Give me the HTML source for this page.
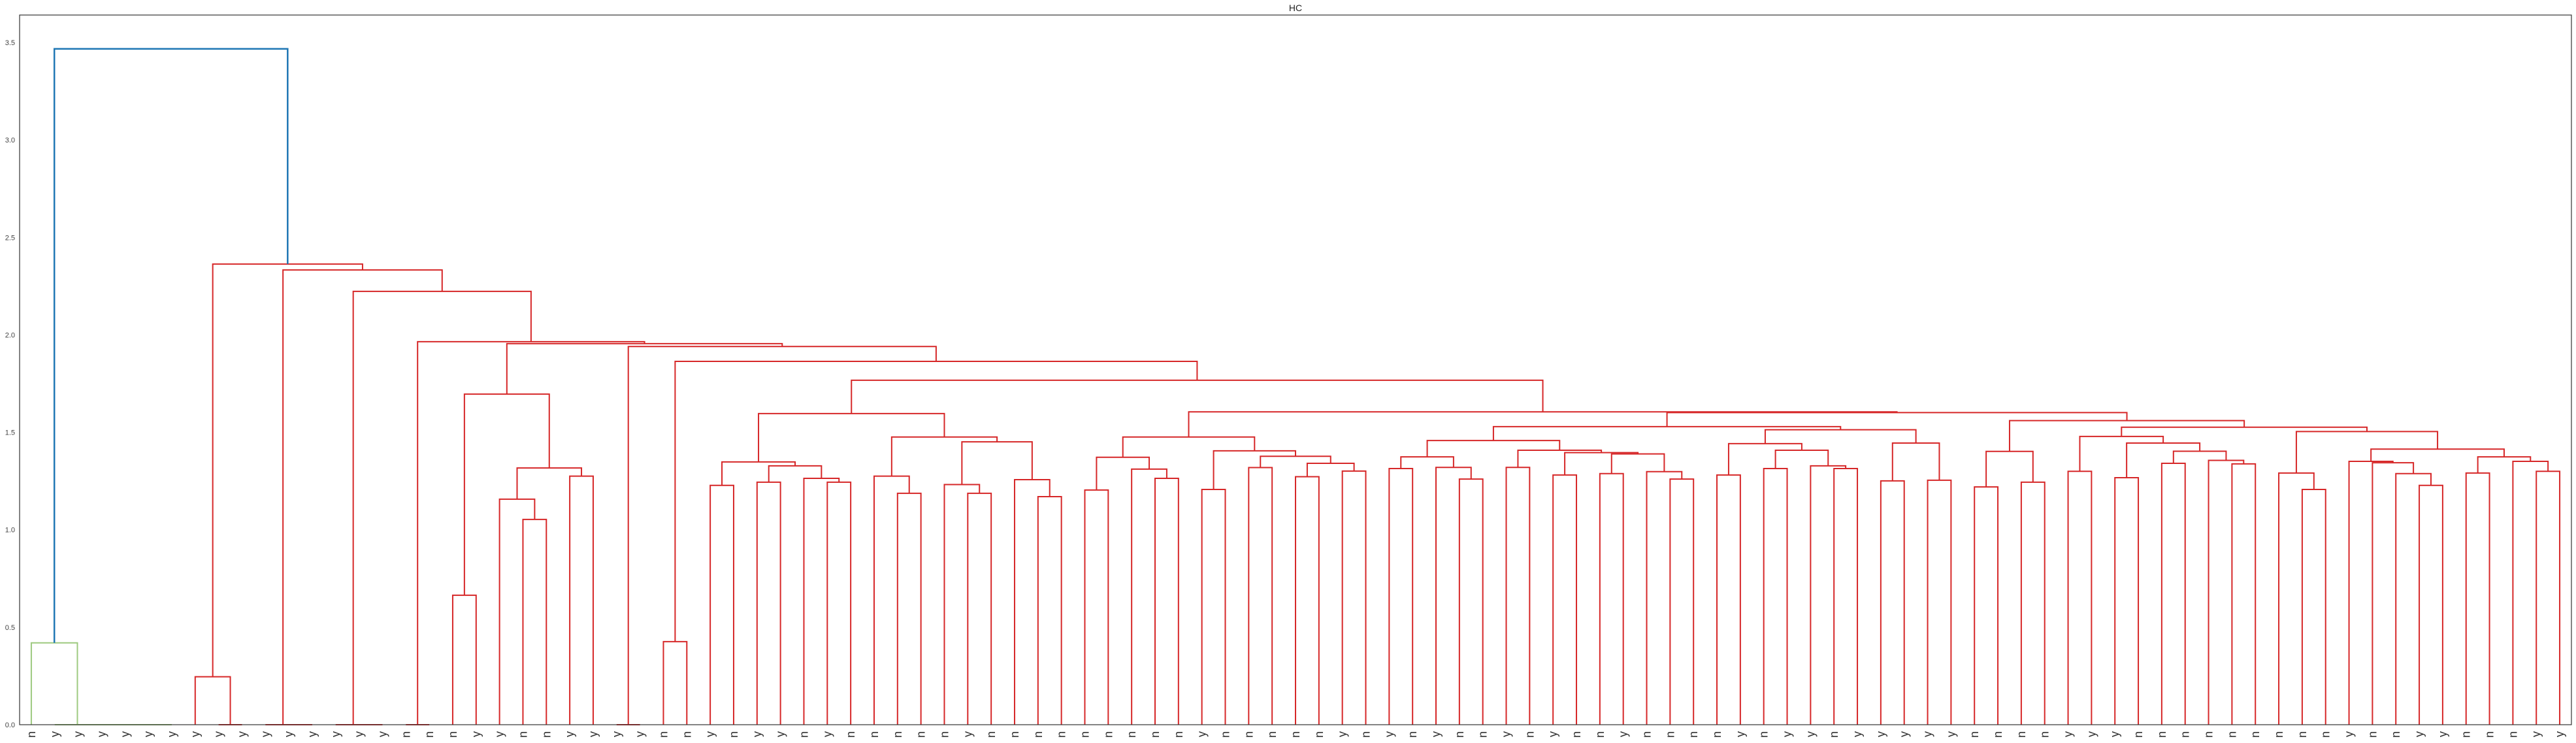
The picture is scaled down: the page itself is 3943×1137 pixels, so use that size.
<!DOCTYPE html>
<html><head><meta charset="utf-8"><style>
html,body{margin:0;padding:0;background:#fff;}
svg{display:block;font-family:"Liberation Sans",sans-serif;}
</style></head><body>
<svg id="chart" width="3943" height="1137" viewBox="0 0 3943 1137" xmlns="http://www.w3.org/2000/svg">
<rect x="0" y="0" width="3943" height="1137" fill="#fff"/>
<text x="1983" y="17" font-size="14" text-anchor="middle" fill="#222">HC</text>
<g id="links"></g>
<g id="yticks"></g>
<g id="xticks"></g>
<rect x="30" y="23" width="3906" height="1086" fill="none" stroke="#333" stroke-width="1.2"/>
</svg>
<script>
const leafLabels = ["n","y","y","y","y","y","y","y","y","y","y","y","y","y","y","y","n","n","n","y","y","n","n","y","y","y","y","n","n","y","n","y","y","n","y","n","n","n","n","n","y","n","n","n","n","n","n","n","n","n","y","n","n","n","n","n","y","n","y","n","y","n","n","y","n","y","n","n","y","n","n","n","n","y","n","y","y","n","y","y","y","y","y","n","n","n","n","y","y","y","n","n","n","n","n","n","n","n","n","y","n","n","y","y","n","n","n","y","y"];
const mergeLeft = [5,4,3,2,1,0,8,7,11,10,14,13,16,18,21,20,23,124,122,25,27,29,31,34,33,131,130,37,36,40,39,43,42,139,137,135,45,48,47,145,50,52,54,56,151,150,149,148,58,61,60,157,63,65,67,70,69,163,162,161,160,72,74,77,76,171,170,79,81,176,175,169,83,85,181,87,89,91,94,93,186,185,184,97,96,102,101,100,99,104,107,106,198,197,193,191,183,180,156,144,129,128,127,121,120,118,116,114];
const mergeRight = [6,109,110,111,112,113,9,115,12,117,15,119,17,19,22,123,24,125,126,26,28,30,32,35,132,133,134,38,136,41,138,44,140,141,142,143,46,49,146,147,51,53,55,57,152,153,154,155,59,62,158,159,64,66,68,71,164,165,166,167,168,73,75,78,172,173,174,80,82,177,178,179,84,86,182,88,90,92,95,187,188,189,190,98,192,103,194,195,196,105,108,199,200,201,202,203,204,205,206,207,208,209,210,211,212,213,214,215];
const mergeHeight = [0,0,0,0,0,0.42,0,0.246,0,0,0,0,0,0.664,1.053,1.157,1.275,1.317,1.696,0,0.426,1.228,1.244,1.244,1.264,1.328,1.348,1.187,1.275,1.187,1.232,1.170,1.257,1.451,1.476,1.596,1.204,1.264,1.311,1.372,1.207,1.319,1.272,1.301,1.341,1.377,1.405,1.476,1.314,1.260,1.320,1.374,1.320,1.281,1.288,1.260,1.298,1.389,1.396,1.408,1.458,1.281,1.314,1.314,1.328,1.408,1.442,1.251,1.254,1.445,1.513,1.529,1.220,1.244,1.402,1.300,1.267,1.341,1.338,1.356,1.403,1.445,1.479,1.207,1.291,1.228,1.288,1.344,1.351,1.291,1.300,1.351,1.374,1.414,1.504,1.526,1.560,1.601,1.605,1.767,1.864,1.940,1.955,1.965,2.223,2.333,2.363,3.467];
const yTickValues = [0,0.5,1,1.5,2,2.5,3,3.5];
const yTickLabels = ["0.0","0.5","1.0","1.5","2.0","2.5","3.0","3.5"];

const NS="http://www.w3.org/2000/svg";
const N = leafLabels.length;
const X0=30, X1=3936, Y0=1109, PXU=298.3;
const step=(X1-X0)/N;
function xScale(p){return X0+step*(p+0.5);}
function yScale(h){return Y0-PXU*h;}
const pos=[], ht=[];
for(let i=0;i<N;i++){pos[i]=i;ht[i]=0;}
const greenStart=N, greenEnd=N+5, rootId=N+mergeLeft.length-1;
const linksG=document.getElementById('links');
for(let k=0;k<mergeLeft.length;k++){
  const a=mergeLeft[k], b=mergeRight[k], h=mergeHeight[k], id=N+k;
  pos[id]=(pos[a]+pos[b])/2; ht[id]=h;
  const xa=xScale(pos[a]), xb=xScale(pos[b]), yt=yScale(h);
  let col="#d62728";
  if(id>=greenStart && id<=greenEnd) col="#9dc97f";
  if(id===rootId) col="#1f77b4";
  const p=document.createElementNS(NS,'path');
  p.setAttribute('d',`M${xa},${yScale(ht[a])}V${yt}H${xb}V${yScale(ht[b])}`);
  p.setAttribute('fill','none');p.setAttribute('stroke',col);
  p.setAttribute('stroke-width',id===rootId?2.5:2);
  
  
  linksG.appendChild(p);
}
const yG=document.getElementById('yticks');
yTickValues.forEach((v,i)=>{
  const t=document.createElementNS(NS,'text');
  t.setAttribute('x',23);t.setAttribute('y',yScale(v)+4);
  t.setAttribute('font-size',11);t.setAttribute('text-anchor','end');t.setAttribute('fill','#444');
  t.textContent=yTickLabels[i];
  
  
  yG.appendChild(t);
});
const xG=document.getElementById('xticks');
leafLabels.forEach((s,i)=>{
  const t=document.createElementNS(NS,'text');
  const x=xScale(i);
  t.setAttribute('transform',`translate(${x+6},1119) rotate(-90)`);
  t.setAttribute('font-size',18);t.setAttribute('text-anchor','end');t.setAttribute('fill','#333');
  t.textContent=s;
  
  
  xG.appendChild(t);
});
</script>
</body></html>
